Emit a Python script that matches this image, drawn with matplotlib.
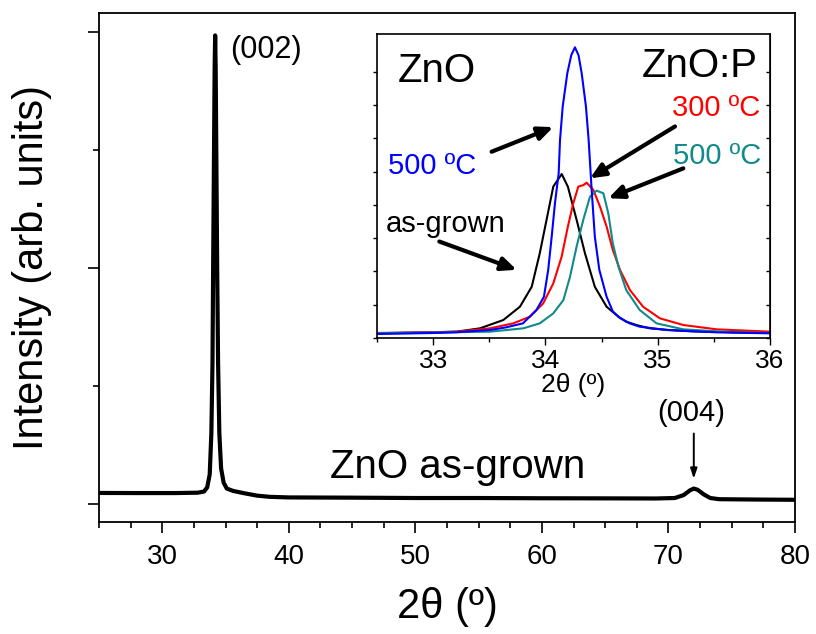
import numpy as np
import matplotlib
matplotlib.use('Agg')
import matplotlib.pyplot as plt

plt.rcParams['font.family'] = ['Liberation Sans', 'DejaVu Sans']

# main pattern, ZnO as-grown
two_theta = [25, 28, 31, 32.8, 33.3, 33.55, 33.75, 33.88, 33.97, 34.02, 34.09, 34.14,
             34.18, 34.22, 34.27, 34.34, 34.41, 34.51, 34.65, 34.85, 35.1, 35.6, 36.5,
             37.5, 38.5, 40, 45, 50, 55, 60, 65, 69, 70.5, 71.2, 71.7, 72.0, 72.3, 72.8,
             73.3, 74, 77, 80]
intensity = [0.093, 0.092, 0.092, 0.095, 0.105, 0.14, 0.25, 0.6, 1.2, 2.0, 3.0, 3.7,
             3.97, 3.7, 3.0, 2.0, 1.2, 0.6, 0.3, 0.18, 0.13, 0.11, 0.09,
             0.07, 0.06, 0.055, 0.053, 0.05, 0.05, 0.048, 0.047, 0.046, 0.05, 0.075, 0.115,
             0.13, 0.12, 0.08, 0.05, 0.04, 0.037, 0.035]

# inset, (002) peak region
blue_x = [32.5, 33.0, 33.2, 33.506, 33.65, 33.8, 33.92, 33.987, 34.025, 34.056, 34.085,
          34.118, 34.13, 34.154, 34.195, 34.23, 34.263, 34.295, 34.323, 34.361, 34.385,
          34.403, 34.41, 34.44, 34.48, 34.545, 34.6, 34.664, 34.75, 34.84, 35.08, 35.525, 36.0]
blue_y = [0.12, 0.15, 0.17, 0.24, 0.32, 0.44, 0.84, 1.24, 2.05, 3.05, 4.05,
          4.95, 5.95, 6.96, 7.96, 8.5, 8.74, 8.5, 7.96, 6.96, 5.95,
          4.95, 4.55, 3.05, 2.05, 1.24, 0.8, 0.6, 0.44, 0.34, 0.24, 0.17, 0.14]

black_x = [32.5, 33.0, 33.21, 33.417, 33.625, 33.773, 33.878, 33.95, 34.01, 34.07, 34.145,
           34.2, 34.278, 34.352, 34.44, 34.545, 34.65, 34.72, 34.82, 34.93, 35.1, 35.3, 36.0]
black_y = [0.15, 0.17, 0.19, 0.29, 0.54, 0.94, 1.54, 2.55, 3.55, 4.55, 4.93,
           4.55, 3.55, 2.55, 1.54, 0.94, 0.64, 0.49, 0.38, 0.29, 0.24, 0.2, 0.15]

red_x = [32.5, 33.21, 33.506, 33.714, 33.862, 33.98, 34.07, 34.145, 34.2, 34.248, 34.293,
         34.34, 34.367, 34.427, 34.486, 34.545, 34.6, 34.664, 34.753, 34.87, 35.02, 35.228,
         35.525, 36.0]
red_y = [0.14, 0.19, 0.29, 0.44, 0.64, 1.04, 1.64, 2.45, 3.35, 4.05, 4.55,
         4.6, 4.67, 4.45, 3.95, 3.35, 2.65, 2.05, 1.44, 0.94, 0.59, 0.39,
         0.26, 0.19]

teal_x = [32.5, 33.506, 33.803, 33.95, 34.07, 34.16, 34.219, 34.278, 34.337, 34.397, 34.456,
          34.516, 34.56, 34.6, 34.65, 34.72, 34.84, 34.99, 35.228, 35.67, 36.0]
teal_y = [0.14, 0.19, 0.29, 0.44, 0.74, 1.14, 1.84, 2.75, 3.55, 4.25, 4.43,
          4.35, 3.75, 2.85, 2.15, 1.44, 0.84, 0.44, 0.26, 0.17, 0.15]

teal = '#108a8a'

fig = plt.figure(figsize=(8.16, 6.34), dpi=100)

# main axes
ax = fig.add_axes([0.1213, 0.1767, 0.853, 0.8028])
ax.plot(two_theta, intensity, color='black', lw=3)
ax.set_xlim(25, 80)
ax.set_ylim(-0.153, 4.16)
ax.set_xticks(range(30, 81, 10))
ax.set_xticks(np.arange(25, 80.1, 2.5), minor=True)
ax.set_yticks([0, 2, 4])
ax.set_yticks([1, 3], minor=True)
ax.set_yticklabels([])
ax.tick_params(which='major', direction='out', length=8, width=1.2, labelsize=20, pad=8)
ax.tick_params(which='minor', direction='out', length=4, width=1.2)
for s in ax.spines.values():
    s.set_linewidth(1.3)
ax.set_xlabel('2θ (º)', fontsize=30, labelpad=12)
ax.set_ylabel('Intensity (arb. units)', fontsize=30, labelpad=18)

ax.text(35.35, 3.85, '(002)', fontsize=22, ha='left', va='center')
ax.text(43.25, 0.31, 'ZnO as-grown', fontsize=29, ha='left', va='center')
ax.text(71.8, 0.77, '(004)', fontsize=21, ha='center', va='center')
ax.annotate('', xy=(72.0, 0.19), xytext=(72.0, 0.62),
            arrowprops=dict(arrowstyle='-|>,head_length=0.6,head_width=0.2', lw=1.4, color='black'))

# inset
ins = fig.add_axes([0.462, 0.4669, 0.4816, 0.4795])
ins.plot(black_x, black_y, color='black', lw=1.5)
ins.plot(red_x, red_y, color='#ff0000', lw=1.5)
ins.plot(teal_x, teal_y, color=teal, lw=1.5)
ins.plot(blue_x, blue_y, color='#0000ff', lw=1.5)
ins.set_xlim(32.5, 36)
ins.set_ylim(0, 9.14)
ins.set_xticks([33, 34, 35, 36])
ins.set_xticks(np.arange(32.5, 36.01, 0.5), minor=True)
ins.set_yticks(range(0, 9))
ins.set_yticklabels([])
ins.tick_params(axis='x', which='major', direction='out', length=5, width=1, labelsize=19, pad=3)
ins.tick_params(axis='x', which='minor', direction='out', length=3, width=1)
ins.tick_params(axis='y', direction='out', length=3, width=1)
sec = ins.secondary_yaxis('right')
sec.set_yticks(range(0, 9))
sec.set_yticklabels([])
sec.tick_params(direction='in', length=3, width=1)
for s in ins.spines.values():
    s.set_linewidth(1.2)
ins.set_xlabel('2θ (º)', fontsize=19, labelpad=0)

ins.text(32.687, 7.71, 'ZnO', fontsize=29, ha='left', va='baseline')
ins.text(35.893, 7.86, 'ZnO:P', fontsize=29, ha='right', va='baseline')
ins.text(35.91, 6.68, '300 ºC', fontsize=21, color='#ff0000', ha='right', va='baseline')
ins.text(35.925, 5.23, '500 ºC', fontsize=21, color=teal, ha='right', va='baseline')
ins.text(32.6, 4.93, '500 ºC', fontsize=21, color='#0000ff', ha='left', va='baseline')
ins.text(32.58, 3.2, 'as-grown', fontsize=21, ha='left', va='baseline')

arrows = [((33.521, 5.60), (34.07, 6.34)),
          ((35.154, 6.36), (34.397, 4.80)),
          ((35.228, 5.10), (34.56, 4.20)),
          ((33.055, 2.90), (33.744, 2.05))]
for tail, head in arrows:
    ins.annotate('', xy=head, xytext=tail,
                 arrowprops=dict(arrowstyle='-|>,head_length=0.9,head_width=0.4',
                                 lw=3, color='black', shrinkA=0, shrinkB=0))

fig.savefig('out.png', dpi=100)
